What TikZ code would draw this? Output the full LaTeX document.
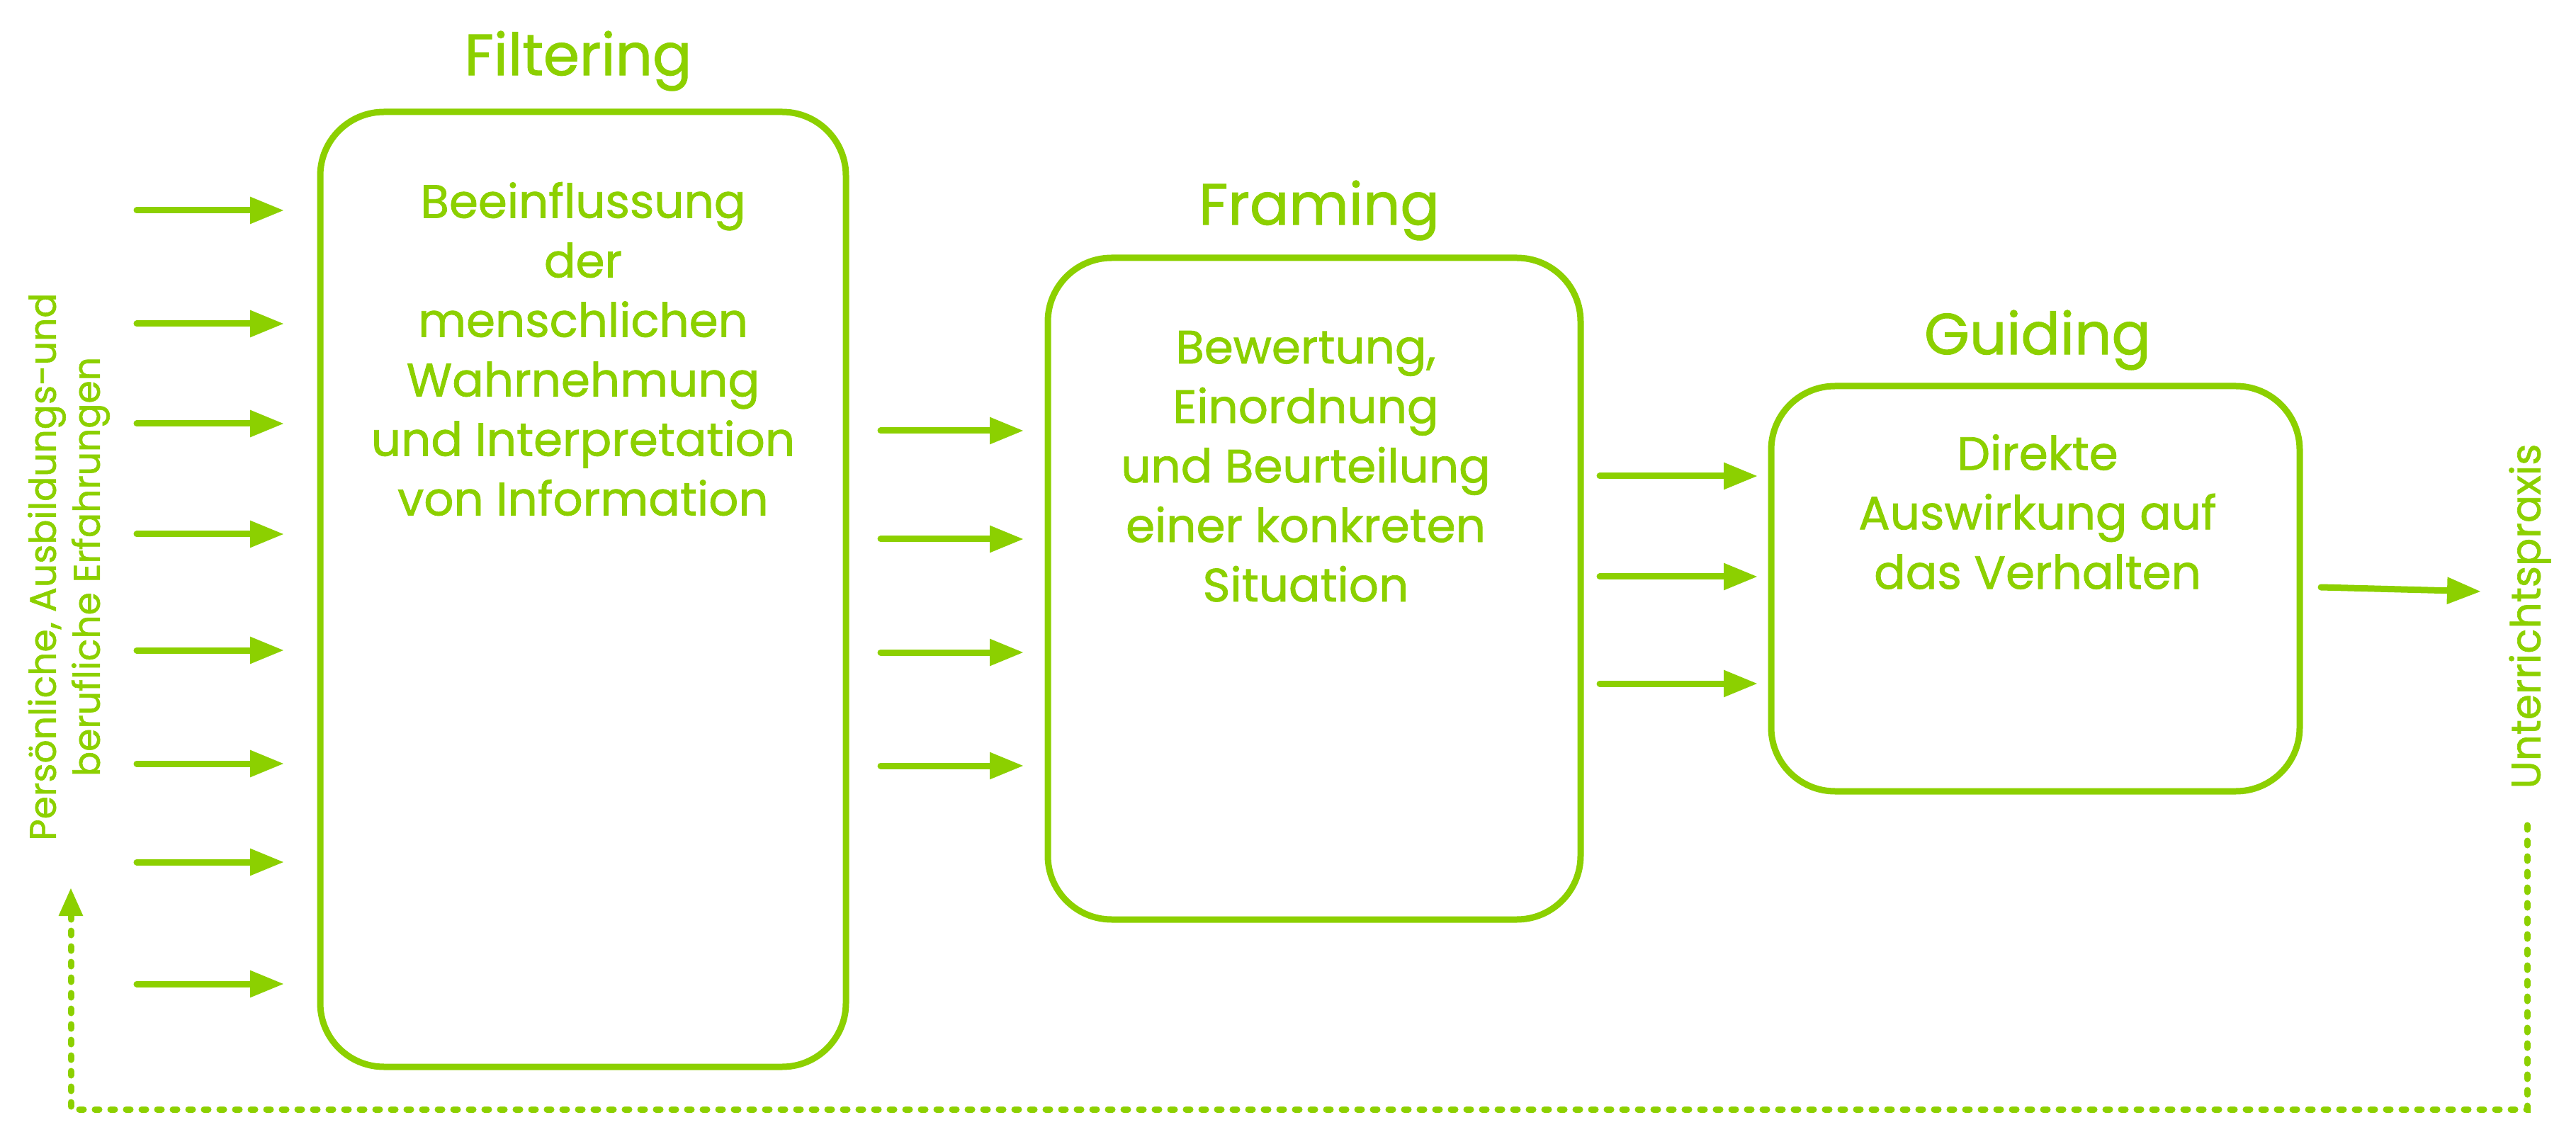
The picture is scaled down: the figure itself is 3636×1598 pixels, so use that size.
\documentclass[tikz,border=0pt]{standalone}
\usepackage{fontspec}
\setmainfont{Poppins}[FakeBold=1.2]
\usetikzlibrary{arrows.meta}
\definecolor{lime}{HTML}{8CD000}
\tikzset{
  box/.style={draw=lime, line width=4.5pt, rounded corners=45pt, inner sep=0pt},
  body/.style={text=lime, align=center, font=\fontsize{33}{42}\selectfont},
  title/.style={text=lime, font=\fontsize{41}{48}\selectfont},
  side/.style={text=lime, align=center, rotate=90, font=\fontsize{26}{31}\selectfont},
  flow/.style={draw=lime, line width=4.5pt, line cap=round, -{Triangle[length=24pt,width=18pt]}},
  loop/.style={draw=lime, line width=4.5pt, line cap=round, dash pattern=on 3pt off 8pt, -{Triangle[length=20pt,width=16pt]}}
}
\begin{document}
\begin{tikzpicture}[x=0.5pt,y=-0.5pt]
\useasboundingbox (0,0) rectangle (3636,1598);
% boxes
\node[box, minimum width=371pt, minimum height=674pt] (b1) at (823,832) {};
\node[box, minimum width=376pt, minimum height=467pt] (b2) at (1855,831) {};
\node[box, minimum width=373pt, minimum height=286pt] (b3) at (2873,831) {};
% titles
\node[title] (t1) at (816,86) {Filtering};
\node[title] (t2) at (1862,297) {Framing};
\node[title] (t3) at (2876,480) {Guiding};
% box texts
\node[body, anchor=north] (x1) at (823,250) {Beeinflussung\\der\\menschlichen\\Wahrnehmung\\und Interpretation\\von Information};
\node[body, anchor=north] (x2) at (1843,460) {Bewertung,\\Einordnung\\und Beurteilung\\einer konkreten\\Situation};
\node[body, anchor=north] (x3) at (2876,606) {Direkte\\Auswirkung auf\\das Verhalten};
% side texts
\node[side] (s1) at (97,800) {Persönliche, Ausbildungs-und\\berufliche Erfahrungen};
\node[side, font=\fontsize{29}{34}\selectfont] (s2) at (3571,870) {Unterrichtspraxis};
% input arrows
\foreach \y [count=\i] in {297,457,598,754,918,1078,1217,1389}{
  \coordinate (ia\i) at (193,\y);
  \coordinate (ib\i) at (401,\y);
  \draw[flow] (ia\i) -- (ib\i);
}
% arrows box1 -> box2
\foreach \y [count=\i] in {608,761,921,1081}{
  \coordinate (ma\i) at (1243,\y);
  \coordinate (mb\i) at (1445,\y);
  \draw[flow] (ma\i) -- (mb\i);
}
% arrows box2 -> box3
\foreach \y [count=\i] in {672,814,965}{
  \coordinate (na\i) at (2258,\y);
  \coordinate (nb\i) at (2481,\y);
  \draw[flow] (na\i) -- (nb\i);
}
% output arrow
\coordinate (oa) at (3276,829);
\coordinate (ob) at (3502,835);
\draw[flow] (oa) -- (ob);
% feedback loop
\coordinate (la) at (3567,1165);
\coordinate (lc1) at (3567,1566);
\coordinate (lc2) at (100,1566);
\coordinate (lb) at (100,1253);
\draw[loop] (la) -- (lc1) -- (lc2) -- (lb);
\end{tikzpicture}
\end{document}
